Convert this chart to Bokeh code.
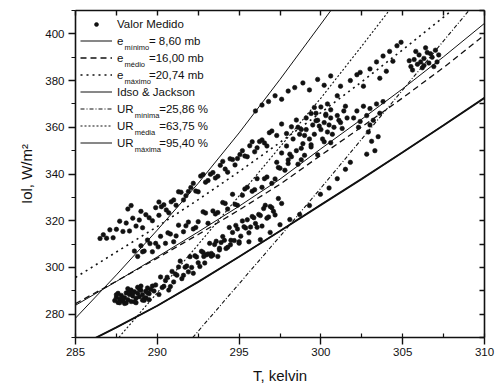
from bokeh.plotting import figure
from bokeh.models import (Range1d, LinearAxis, SingleIntervalTicker, Legend,
                          LegendItem, Label)
from bokeh.embed import file_html
from bokeh.resources import INLINE

FONT = "Liberation Sans"
INK = "#111111"

# ---- model curves (T in kelvin, L in W/m2) ----
t_grid = [285, 287.5, 290, 292.5, 295, 297.5, 300, 302.5, 305, 307.5, 310]
e_min_l = [265.5, 274.3, 283.6, 293.8, 304.6, 315.6, 326.8, 337.9, 349.3, 360.9, 372.6]
e_med_l = [284.5, 294.1, 304.0, 314.1, 324.6, 335.6, 348.0, 360.2, 372.6, 385.6, 399.5]
e_max_l = [295.7, 306.6, 317.5, 329.0, 341.0, 353.5, 366.3, 379.5, 393.2, 407.2, 421.5]
idso_l = [283.8, 294.0, 304.5, 315.2, 326.2, 337.8, 350.8, 363.5, 376.5, 390.2, 404.5]

t_ur_max = [285, 287.5, 290, 292.5, 295, 297.5, 300, 302.5]
ur_max_l = [278.3, 296.8, 316.0, 336.0, 357.6, 380.5, 404.2, 428.0]
t_ur_med = [287.5, 290, 292.5, 295, 297.5, 300, 302.5, 305]
ur_med_l = [268.8, 289.2, 309.8, 330.6, 351.6, 372.5, 394.8, 417.5]
t_ur_min = [290, 292.5, 295, 297.5, 300, 302.5, 305, 307.5, 310]
ur_min_l = [252.5, 272.7, 293.0, 313.3, 334.0, 355.0, 376.0, 397.0, 418.0]

# ---- measured values (Valor Medido), read by eye in groups ----
t_blob = [287.4, 287.5, 287.6, 287.7, 287.8, 287.9, 288.0, 288.1, 288.2, 288.3, 288.4, 288.5,
          288.6, 288.7, 288.8, 288.9, 289.0, 289.1, 289.2, 289.3, 289.4, 289.5, 289.6, 289.7,
          289.8, 287.6, 288.0, 288.4, 288.8, 289.2,
          287.5, 287.7, 287.9, 288.1, 288.3, 288.5, 288.7, 288.9, 289.1, 289.3, 289.5, 288.2,
          288.6, 289.0, 289.4]
l_blob = [285.8, 287.2, 285.0, 286.4, 288.0, 285.6, 287.0, 289.1, 286.2, 288.4, 285.4, 287.8,
          289.6, 286.8, 288.9, 287.5, 290.2, 288.3, 286.6, 289.8, 291.2, 288.7, 290.5, 292.0,
          289.9, 288.9, 284.6, 290.3, 291.5, 285.9,
          288.3, 284.9, 286.9, 284.8, 290.0, 289.2, 284.9, 290.8, 286.0, 287.0, 286.2, 290.9,
          285.3, 292.0, 289.2]

t_low = [289.9, 290.1, 290.2, 290.4, 290.5, 290.7, 290.9, 291.0, 291.2, 291.4, 291.5, 291.7,
         291.9, 292.0, 292.2, 292.4, 292.5, 292.7, 292.9, 293.0, 293.2, 293.4, 293.5, 293.7,
         293.9, 294.0, 294.2, 294.4, 294.5, 294.7, 294.9, 295.0, 295.2, 295.4, 295.6, 295.8,
         296.0, 296.2, 296.4, 296.6, 296.8, 297.0, 297.2, 297.4, 297.6,
         290.3, 290.6, 290.8, 291.1, 291.3, 291.6, 291.8, 292.1, 292.3, 292.6, 292.8, 293.1,
         293.3, 293.6, 293.8, 294.1, 294.3, 294.6, 294.8, 295.1, 295.3, 295.5, 295.7, 295.9,
         296.1, 296.3, 296.5, 296.7, 296.9, 297.1]
l_low = [292.5, 288.4, 295.9, 291.9, 294.4, 290.3, 298.3, 293.8, 296.7, 302.7, 295.2, 300.1,
         298.1, 304.6, 297.5, 304.5, 302.0, 306.9, 301.9, 305.4, 310.3, 305.3, 309.8, 304.7,
         310.7, 313.2, 308.1, 317.1, 311.6, 311.5, 316.5, 311.0, 319.9, 316.9, 314.8, 321.8,
         318.8, 322.7, 317.7, 326.6, 321.6, 325.6, 322.5, 329.5, 327.4,
         291.4, 295.8, 291.8, 297.2, 300.2, 296.6, 300.6, 300.0, 305.0, 300.4, 306.4, 305.8,
         304.8, 311.2, 308.2, 311.6, 308.6, 315.0, 318.0, 313.4, 317.4, 320.4, 317.3, 321.3,
         317.2, 322.2, 325.2, 321.1, 326.1, 324.0]

t_mid = [288.6, 288.8, 289.0, 289.2, 289.4, 289.7, 289.9, 290.2, 290.5, 290.8, 291.0, 291.3,
         291.6, 291.9, 292.2, 292.5, 292.8, 293.1, 293.4, 293.7, 294.0, 294.3, 294.6, 294.9,
         295.2, 295.5, 295.8, 296.1, 296.4, 296.7, 297.0, 297.4, 297.8, 298.2, 298.6, 299.0,
         299.4, 299.8, 300.2, 300.6,
         289.1, 289.55, 290.05, 290.65, 291.15, 291.75, 292.35, 292.95, 293.55, 294.15, 294.75,
         295.35, 295.95, 296.55, 297.2, 298.0, 298.8]
l_mid = [307.0, 304.7, 309.3, 307.0, 311.7, 306.7, 310.3, 313.3, 310.3, 314.3, 311.0, 318.1,
         315.3, 319.4, 316.5, 319.6, 323.8, 318.9, 324.2, 323.5, 327.8, 325.0, 331.3, 326.6,
         330.9, 334.3, 332.6, 338.0, 334.3, 338.7, 336.0, 342.8, 341.6, 347.4, 344.2, 348.0,
         351.6, 348.2, 353.8, 353.4,
         306.7, 310.2, 308.8, 314.8, 313.5, 317.8, 317.1, 323.3, 322.9, 327.4, 327.0,
         333.6, 333.3, 338.0, 337.9, 344.5, 346.1]

t_up = [286.5, 286.7, 286.9, 287.1, 287.3, 287.5, 287.7, 287.9, 288.1, 288.3, 288.5, 288.7,
        288.9, 289.1, 289.3, 289.5, 289.7, 289.9, 290.1, 290.4, 290.7, 291.0, 291.3, 291.6,
        291.9, 292.2, 292.5, 292.8, 293.1, 293.4, 293.7, 294.0, 294.3, 294.6, 294.9, 295.2,
        295.5, 295.8, 296.1, 296.4, 296.7, 297.0, 297.3, 297.6, 297.9, 298.2, 298.5, 298.8,
        299.1, 299.4, 299.7, 300.0, 300.3, 300.6, 288.2, 288.4, 290.1, 289.0,
        290.25, 290.55, 290.85, 291.15, 291.45, 291.75, 292.05, 292.35, 292.65, 292.95,
        293.25, 293.55, 293.85, 294.15, 294.45, 294.75, 295.05, 295.35, 295.65, 295.95,
        296.25, 296.55, 296.85]
l_up = [312.4, 314.0, 312.5, 316.1, 312.7, 316.3, 319.8, 315.4, 319.0, 315.6, 321.1, 317.7,
        320.3, 317.0, 322.6, 321.3, 320.0, 325.6, 322.3, 326.8, 323.4, 328.9, 332.4, 328.9,
        332.5, 336.0, 332.4, 339.8, 337.2, 340.6, 339.0, 345.4, 340.8, 346.2, 346.6, 350.0,
        347.4, 353.8, 351.2, 354.6, 352.0, 358.4, 356.5, 361.4, 357.3, 360.2, 363.1, 359.1,
        364.0, 365.9, 362.8, 368.7, 365.6, 367.5, 325.0, 326.5, 328.0, 324.0,
        326.0, 324.6, 328.1, 326.6, 332.2, 330.7, 334.2, 332.7, 339.1, 336.5,
        339.9, 338.3, 343.7, 342.1, 346.5, 343.9, 348.3, 347.7, 352.1, 349.5,
        353.9, 353.3, 357.7]

t_sparse = [292.84, 293.3, 293.8, 294.47, 295.0, 295.6, 296.3, 296.9, 297.5, 298.1, 298.7,
            299.3, 299.97, 300.5, 301.0, 301.5, 301.8]
l_sparse = [304.7, 306.0, 307.5, 309.7, 310.4, 311.0, 311.9, 315.0, 318.3, 320.5, 322.7,
            326.5, 331.3, 334.0, 338.0, 342.0, 345.0]

t_c300 = [297.3, 297.6, 297.9, 298.0, 298.3, 298.5, 298.7, 298.9, 299.1, 299.3, 299.5, 299.6,
          299.8, 300.0, 300.2, 300.4, 300.6, 300.8, 301.0, 301.2, 301.4, 301.6, 297.5, 298.1,
          298.8, 299.4, 300.1, 300.7, 301.3,
          299.0, 299.9, 300.5, 301.1, 300.3, 299.7, 298.6, 301.5]
l_c300 = [345.0, 349.0, 352.0, 346.0, 355.0, 350.0, 357.0, 353.0, 359.0, 355.0, 361.0, 357.0,
          363.0, 359.0, 362.0, 358.0, 364.0, 360.0, 365.0, 362.0, 367.0, 364.0, 342.5, 348.5,
          351.0, 352.5, 355.0, 357.0, 359.5,
          356.5, 360.5, 361.0, 363.0, 365.0, 366.0, 360.0, 369.0]

t_c303 = [302.0, 302.2, 302.4, 302.6, 302.8, 303.0, 303.2, 303.4, 303.6, 303.8, 302.9, 303.1,
          303.3, 302.8, 303.5, 303.0, 302.3]
l_c303 = [364.0, 367.0, 362.5, 369.0, 365.0, 368.0, 363.0, 370.0, 366.0, 371.0, 358.0, 354.0,
          350.0, 348.5, 356.0, 361.0, 360.0]

t_top = [296.0, 296.4, 296.8, 297.2, 297.6, 298.0, 298.4, 298.9, 299.3, 299.8, 300.2, 300.6,
         301.0, 301.2, 300.4, 299.6]
l_top = [367.0, 369.5, 371.0, 373.5, 372.0, 375.5, 377.0, 379.0, 376.0, 380.5, 378.0, 382.0,
         373.5, 377.6, 370.0, 368.5]

t_ne = [301.8, 302.2, 302.6, 302.4, 303.0, 303.4, 303.8, 304.2, 304.65, 304.9, 304.4, 303.6,
        304.0, 305.5, 305.7, 305.9, 306.0, 306.2, 306.3, 306.5, 306.6, 306.8, 307.0, 307.1,
        305.8, 306.4, 306.9, 305.6, 306.1, 306.7, 305.4, 307.2, 306.3]
l_ne = [380.0, 382.5, 377.6, 383.5, 385.0, 388.0, 390.5, 392.5, 394.9, 396.4, 388.3, 381.0,
        384.0, 386.0, 389.0, 387.0, 391.0, 385.5, 389.5, 392.0, 387.5, 390.0, 393.0, 388.0,
        392.5, 394.0, 386.0, 384.5, 388.0, 391.5, 388.5, 391.0, 386.5]

t_obs = t_blob + t_low + t_mid + t_up + t_sparse + t_c300 + t_c303 + t_top + t_ne
l_obs = l_blob + l_low + l_mid + l_up + l_sparse + l_c300 + l_c303 + l_top + l_ne

# ---- figure ----
p = figure(width=499, height=390, x_range=Range1d(285, 310), y_range=Range1d(270, 410),
           output_backend="svg", toolbar_location=None,
           min_border_left=75, min_border_right=15, min_border_top=10, min_border_bottom=53)
p.xgrid.visible = False
p.ygrid.visible = False
p.outline_line_color = None
p.background_fill_color = "white"
p.border_fill_color = "white"


def style_axis(ax, interval, minor):
    ax.ticker = SingleIntervalTicker(interval=interval, num_minor_ticks=minor)
    ax.axis_line_color = INK
    ax.axis_line_width = 1.6
    ax.major_tick_line_color = INK
    ax.major_tick_line_width = 1.4
    ax.minor_tick_line_color = INK
    ax.minor_tick_line_width = 1.2
    ax.major_label_text_font = FONT
    ax.major_label_text_font_size = "11.5px"
    ax.major_label_text_color = INK


xa = p.xaxis[0]
style_axis(xa, 5, 2)
xa.major_tick_in = 0
xa.major_tick_out = 7
xa.minor_tick_in = 4
xa.minor_tick_out = 0
xa.major_label_standoff = 3
xa.axis_label = "T, kelvin"
xa.axis_label_text_font = FONT
xa.axis_label_text_font_size = "15px"
xa.axis_label_text_font_style = "normal"
xa.axis_label_text_color = INK
xa.axis_label_standoff = 8

ya = p.yaxis[0]
style_axis(ya, 20, 2)
ya.major_tick_in = 0
ya.major_tick_out = 7
ya.minor_tick_in = 0
ya.minor_tick_out = 4
ya.major_label_standoff = 4
ya.axis_label = "Iol, W/m²"
ya.axis_label_text_font = FONT
ya.axis_label_text_font_size = "15px"
ya.axis_label_text_font_style = "normal"
ya.axis_label_text_color = INK
ya.axis_label_standoff = 7

top = LinearAxis()
style_axis(top, 2.5, 2)
top.major_tick_in = 5
top.major_tick_out = 0
top.minor_tick_line_color = None
top.major_label_standoff = 0
top.major_label_text_color = None
top.major_label_text_alpha = 0
p.add_layout(top, "above")

right = LinearAxis()
style_axis(right, 10, 2)
right.major_tick_in = 5
right.major_tick_out = 0
right.minor_tick_line_color = None
right.major_label_standoff = 0
right.major_label_text_color = None
right.major_label_text_alpha = 0
p.add_layout(right, "right")

# ---- curves ----
# thin copy of e_minimo (hidden under the thick one) provides the thin legend sample
r_emin_key = p.line(t_grid, e_min_l, line_color=INK, line_width=1.1)
r_emin = p.line(t_grid, e_min_l, line_color=INK, line_width=1.9)
r_emed = p.line(t_grid, e_med_l, line_color=INK, line_width=1.3, line_dash="6 4")
r_emax = p.line(t_grid, e_max_l, line_color=INK, line_width=1.6, line_dash="2 4")
r_idso = p.line(t_grid, idso_l, line_color=INK, line_width=1.0)
r_urmin = p.line(t_ur_min, ur_min_l, line_color=INK, line_width=1.1, line_dash="4 2 1 2")
r_urmed = p.line(t_ur_med, ur_med_l, line_color=INK, line_width=1.1, line_dash="2 2")
r_urmax = p.line(t_ur_max, ur_max_l, line_color=INK, line_width=1.0)

r_obs = p.scatter(t_obs, l_obs, size=4.5, marker="circle", fill_color=INK,
                  line_color=INK, line_width=0.6)

# legend: first row on its own so that its dot stays small
leg_dot = Legend(items=[LegendItem(label="Valor Medido", renderers=[r_obs])],
                 location="top_left", margin=0, padding=5, spacing=0,
                 glyph_height=10, label_height=17, glyph_width=32, label_standoff=5,
                 background_fill_alpha=0, border_line_alpha=0,
                 label_text_font=FONT, label_text_font_size="11.5px", label_text_color=INK)
p.add_layout(leg_dot)

NB = "\u00a0" * 8
items = [
    LegendItem(label="e" + NB + "= 8,60 mb", renderers=[r_emin_key]),
    LegendItem(label="e" + NB + "=16,00 mb", renderers=[r_emed]),
    LegendItem(label="e" + NB + "=20,74 mb", renderers=[r_emax]),
    LegendItem(label="Idso & Jackson", renderers=[r_idso]),
    LegendItem(label="UR" + NB + "=25,86 %", renderers=[r_urmin]),
    LegendItem(label="UR" + NB + "=63,75 %", renderers=[r_urmed]),
    LegendItem(label="UR" + NB + "=95,40 %", renderers=[r_urmax]),
]
# bottom-left corner of this box, in screen px from the frame's bottom-left
leg_lines = Legend(items=items, location=(0, 181), margin=0, padding=5, spacing=0,
                   glyph_height=17, label_height=17, glyph_width=32, label_standoff=5,
                   background_fill_alpha=0, border_line_alpha=0,
                   label_text_font=FONT, label_text_font_size="11.5px", label_text_color=INK)
p.add_layout(leg_lines)

# subscripts of the legend labels
subs = ["mínimo", "médio", "máximo", "mínima", "média", "máxima"]
sub_x = [288.0, 288.0, 288.0, 288.62, 288.62, 288.62]
sub_y = [394.1, 386.8, 379.5, 365.0, 357.7, 350.4]
for s, sx, sy in zip(subs, sub_x, sub_y):
    p.add_layout(Label(x=sx, y=sy, text=s, text_font=FONT, text_font_size="7.5px",
                       text_baseline="middle", text_align="left", text_color=INK))

open("out.html", "w").write(file_html(p, INLINE))
